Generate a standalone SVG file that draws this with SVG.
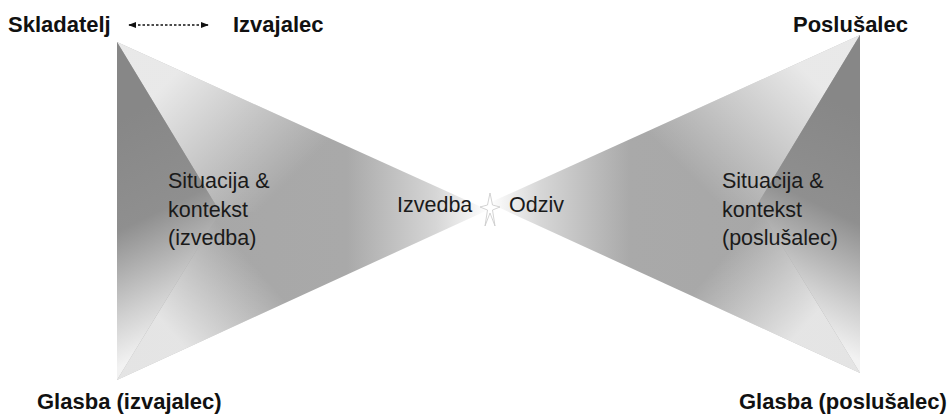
<svg xmlns="http://www.w3.org/2000/svg" xmlns:xlink="http://www.w3.org/1999/xlink" width="949" height="414" viewBox="0 0 949 414">
<style>
.lbl{font-family:"Liberation Sans",Arial,sans-serif;font-size:22px;font-weight:bold;fill:#111}
.txt{font-family:"Liberation Sans",Arial,sans-serif;font-size:21.5px;fill:#1a1a1a}
</style>
<defs>
<linearGradient id="gMain" gradientUnits="userSpaceOnUse" x1="117" y1="0" x2="488" y2="0">
<stop offset="0" stop-color="#a6a6a6"/>
<stop offset="0.62" stop-color="#a9a9a9"/>
<stop offset="0.86" stop-color="#d6d6d6"/>
<stop offset="1" stop-color="#ffffff"/>
</linearGradient>
<linearGradient id="gUp" gradientUnits="userSpaceOnUse" x1="170" y1="80" x2="280" y2="190">
<stop offset="0" stop-color="#ffffff" stop-opacity="0.75"/>
<stop offset="1" stop-color="#ffffff" stop-opacity="0"/>
</linearGradient>
<linearGradient id="gLow" gradientUnits="userSpaceOnUse" x1="170" y1="330" x2="250" y2="260">
<stop offset="0" stop-color="#ffffff" stop-opacity="0.7"/>
<stop offset="1" stop-color="#ffffff" stop-opacity="0"/>
</linearGradient>
<linearGradient id="gDark" gradientUnits="userSpaceOnUse" x1="117" y1="120" x2="215" y2="320">
<stop offset="0" stop-color="#878787"/>
<stop offset="0.45" stop-color="#8f8f8f"/>
<stop offset="0.8" stop-color="#d0d0d0"/>
<stop offset="1" stop-color="#f2f2f2"/>
</linearGradient>
<marker id="ah" viewBox="0 0 10 10" refX="9" refY="5" markerWidth="8" markerHeight="8" markerUnits="userSpaceOnUse" orient="auto-start-reverse">
<path d="M0,1 L10,5 L0,9 Z" fill="#111"/>
</marker>
<g id="cone">
<polygon points="117,42 488,210 117,380" fill="url(#gMain)"/>
<polygon points="117,42 488,210 220,212" fill="url(#gUp)"/>
<polygon points="117,380 488,210 220,212" fill="url(#gLow)"/>
<polygon points="117,42 220,212 117,380" fill="url(#gDark)"/>
</g>
</defs>
<rect width="949" height="414" fill="#ffffff"/>
<g id="left-cone"><use xlink:href="#cone"/></g>
<g id="right-cone"><use xlink:href="#cone" transform="matrix(-1 0 0 1 977 -7)"/></g>
<g id="spark">
<polygon points="490,193 492.5,205 500,207 492.5,210 495,226 490,213 485,226 487.5,210 480,207 487.5,205" fill="#ffffff" stroke="#c8c8c8" stroke-width="0.8"/>
</g>
<g id="connectors">
<line x1="129" y1="25" x2="208" y2="25" stroke="#111" stroke-width="1.5" stroke-dasharray="2.5,2" marker-start="url(#ah)" marker-end="url(#ah)"/>
</g>
<g id="skladatelj"><text class="lbl" x="8" y="32">Skladatelj</text></g>
<g id="izvajalec"><text class="lbl" x="233" y="32">Izvajalec</text></g>
<g id="poslusalec"><text class="lbl" x="793" y="32">Poslušalec</text></g>
<g id="glasba-izv"><text class="lbl" x="37" y="409">Glasba (izvajalec)</text></g>
<g id="glasba-posl"><text class="lbl" x="739" y="409">Glasba (poslušalec)</text></g>
<g id="sit-left"><text class="txt" x="168" y="188">Situacija &amp;</text><text class="txt" x="168" y="217">kontekst</text><text class="txt" x="168" y="245">(izvedba)</text></g>
<g id="sit-right"><text class="txt" x="722" y="188">Situacija &amp;</text><text class="txt" x="722" y="217">kontekst</text><text class="txt" x="722" y="245">(poslušalec)</text></g>
<g id="izvedba"><text class="txt" x="397" y="212">Izvedba</text></g>
<g id="odziv"><text class="txt" x="509" y="212">Odziv</text></g>
</svg>
